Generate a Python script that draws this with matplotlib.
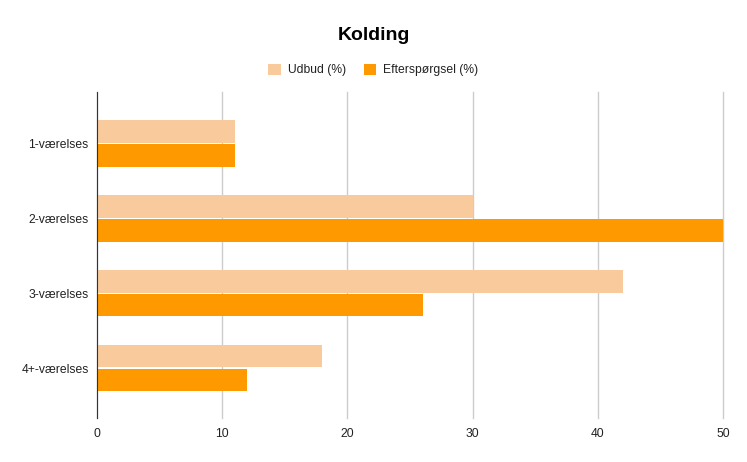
import numpy as np
import matplotlib
matplotlib.use('Agg')
import matplotlib.pyplot as plt
from matplotlib.patches import Patch

categories = ['1-værelses', '2-værelses', '3-værelses', '4+-værelses']
udbud = [11, 30, 42, 18]
efterspoergsel = [11, 50, 26, 12]
x_ticks = [0, 10, 20, 30, 40, 50]

plt.rcParams['font.family'] = ['Liberation Sans', 'DejaVu Sans']

fig = plt.figure(figsize=(7.47, 4.62), dpi=100)
ax = fig.add_axes([97 / 747, 1 - 418 / 462, 626 / 747, 326 / 462])

y = np.arange(len(categories))
h = 0.3
ax.barh(y - h / 2 - 0.01, udbud, height=h, color='#f9cb9c', zorder=3)
ax.barh(y + h / 2 + 0.01, efterspoergsel, height=h, color='#ff9900', zorder=3)

ax.set_xlim(0, 50)
ax.set_ylim(3.667, -0.69)
ax.set_yticks(y)
ax.set_yticklabels(categories, fontsize=8.7, color='#222222')
ax.set_xticks(x_ticks)
ax.set_xticklabels([str(t) for t in x_ticks], fontsize=8.7, color='#222222')
ax.tick_params(axis='both', length=0)
ax.tick_params(axis='y', pad=6)
ax.tick_params(axis='x', pad=7)

ax.grid(axis='x', color='#cccccc', linewidth=1, zorder=0)
for gl in ax.get_xgridlines():
    gl.set_clip_on(False)
for side in ['top', 'right', 'bottom']:
    ax.spines[side].set_visible(False)
ax.spines['left'].set_color('#333333')
ax.spines['left'].set_zorder(4)

fig.text(0.5, 1 - 35 / 462, 'Kolding', ha='center', va='center',
         fontsize=14, fontweight='bold', color='#000000')

handles = [Patch(facecolor='#f9cb9c', label='Udbud (%)'),
           Patch(facecolor='#ff9900', label='Efterspørgsel (%)')]
fig.legend(handles=handles, loc='center', bbox_to_anchor=(0.5, 1 - 70 / 462),
           ncol=2, frameon=False, fontsize=8.7, handlelength=1.0, handleheight=1.0,
           handletextpad=0.6, columnspacing=1.5, labelcolor='#222222')

fig.savefig('out.png', dpi=100)
